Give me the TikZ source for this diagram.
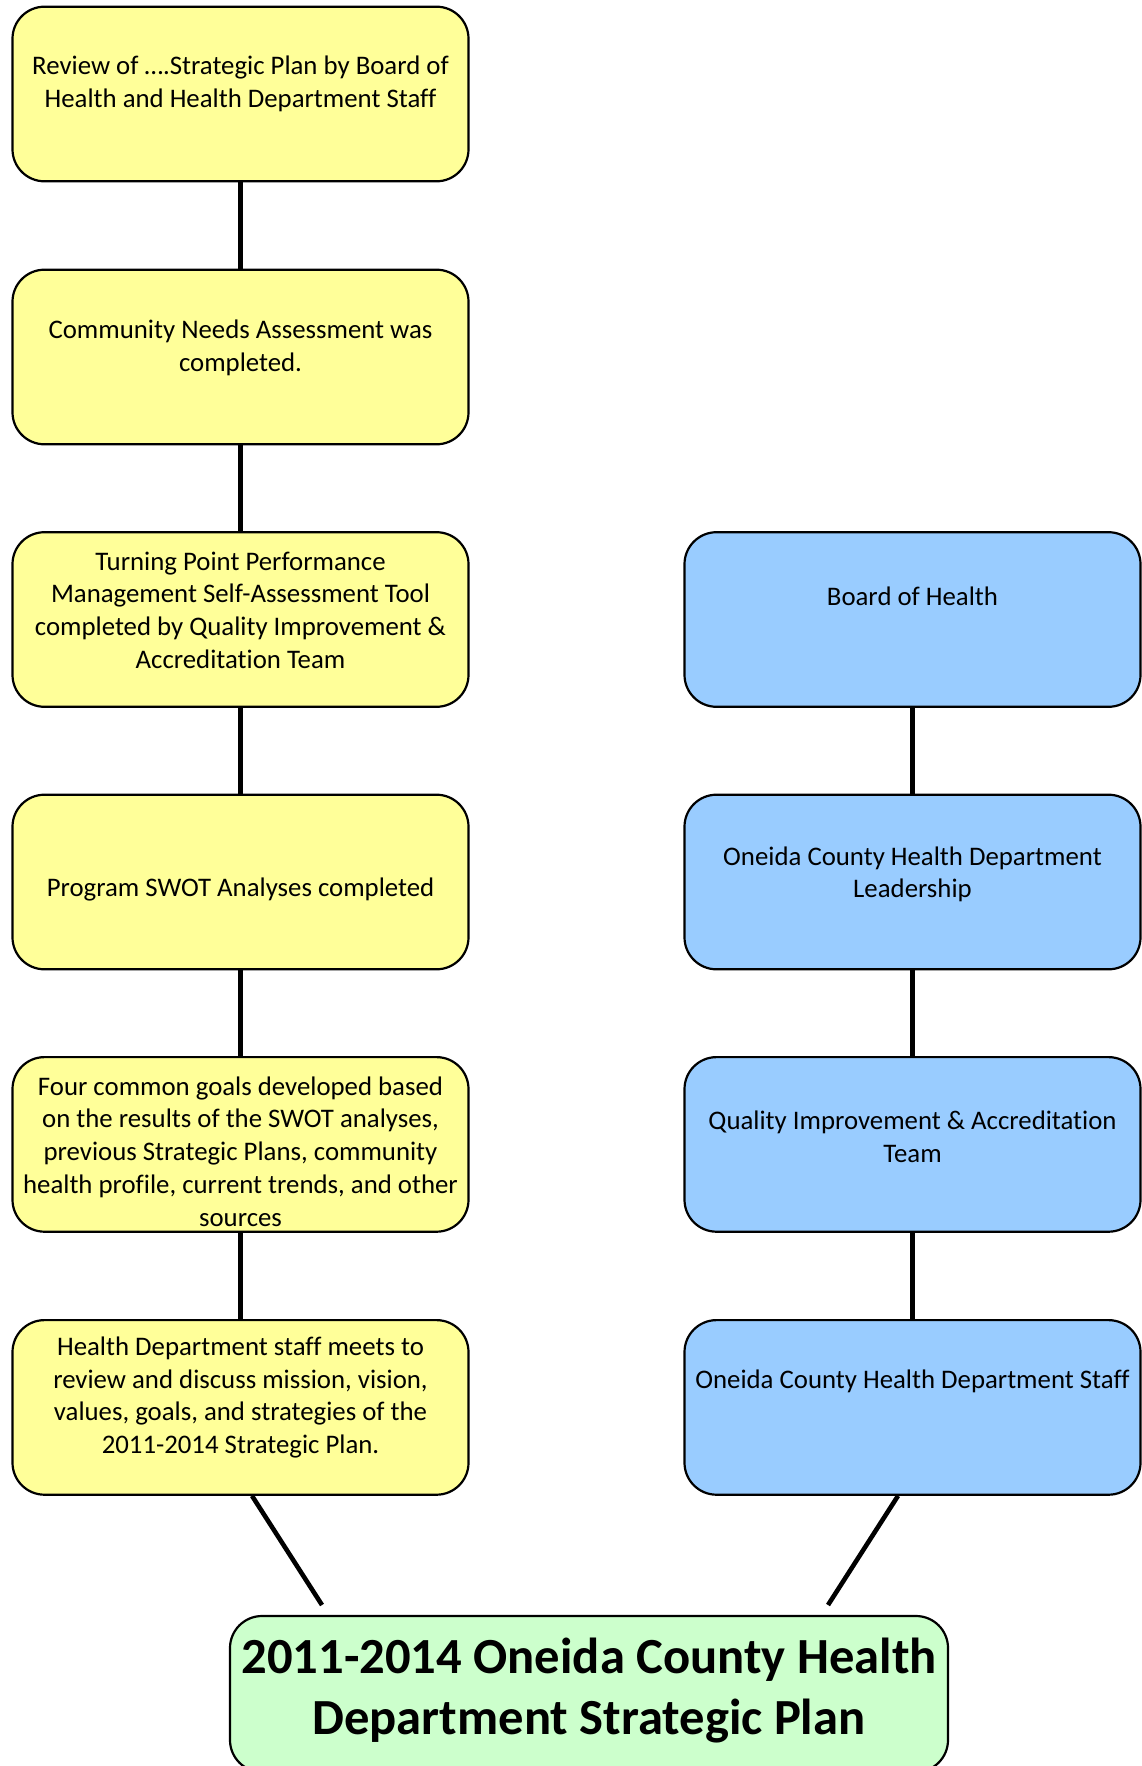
\documentclass[tikz,border=0pt]{standalone}
\usepackage{fontspec}
\setmainfont{Carlito}[Ligatures=NoCommon]
\usetikzlibrary{calc}
\definecolor{yfill}{HTML}{FFFF99}
\definecolor{bfill}{HTML}{99CCFF}
\definecolor{gfill}{HTML}{CCFFCC}
\tikzset{
  box/.style={draw=black, line width=1.1pt, rounded corners=16pt, minimum width=228pt, minimum height=87.3pt, inner sep=0pt},
  ybox/.style={box, fill=yfill},
  bbox/.style={box, fill=bfill},
  gbox/.style={draw=black, line width=1.1pt, rounded corners=16pt, fill=gfill, minimum width=359pt, minimum height=78pt, inner sep=0pt},
  txt/.style={align=center, inner sep=0pt, font=\fontsize{13.4}{16.35}\selectfont},
  conn/.style={line width=2.3pt, black},
}
\begin{document}
\begin{tikzpicture}[x=0.5pt, y=-0.5pt]
\useasboundingbox (0,0) rectangle (1141,1766);
% left column
\node[ybox] (a1) at (240.5,94) {};
\node[ybox] (a2) at (240.5,357) {};
\node[ybox] (a3) at (240.5,619.5) {};
\node[ybox] (a4) at (240.5,882) {};
\node[ybox] (a5) at (240.5,1144.4) {};
\node[ybox] (a6) at (240.5,1407.4) {};
% right column
\node[bbox] (b1) at (912.5,619.5) {};
\node[bbox] (b2) at (912.5,882) {};
\node[bbox] (b3) at (912.5,1144.4) {};
\node[bbox] (b4) at (912.5,1407.4) {};
% final
\node[gbox] (g) at (589,1694) {};
% texts
\node[txt] (ta1) at (240.5,84.1) {Review of ….Strategic Plan by Board of\\Health and Health Department Staff};
\node[txt] (ta2) at (240.5,347.8) {Community Needs Assessment was\\completed.};
\node[txt] (ta3) at (240.5,610.2) {Turning Point Performance\\Management Self-Assessment Tool\\completed by Quality Improvement \&\\Accreditation Team};
\node[txt] (ta4) at (240.5,889) {Program SWOT Analyses completed};
\node[txt] (ta5) at (240.5,1151.4) {Four common goals developed based\\on the results of the SWOT analyses,\\previous Strategic Plans, community\\health profile, current trends, and other\\sources};
\node[txt] (ta6) at (240.5,1397.5) {Health Department staff meets to\\review and discuss mission, vision,\\values, goals, and strategies of the\\2011-2014 Strategic Plan.};
\node[txt] (tb1) at (912.5,596.1) {Board of Health};
\node[txt] (tb2) at (912.5,874.3) {Oneida County Health Department\\Leadership};
\node[txt] (tb3) at (912.5,1136.7) {Quality Improvement \& Accreditation\\Team};
\node[txt] (tb4) at (912.5,1381.2) {Oneida County Health Department Staff};
\node[align=center, inner sep=0pt, font=\fontsize{25.3}{30.5}\bfseries\selectfont] (tg) at (589,1691) {2011-2014 Oneida County Health\\Department Strategic Plan};
% connectors
\draw[conn] (a1.south) -- (a2.north);
\draw[conn] (a2.south) -- (a3.north);
\draw[conn] (a3.south) -- (a4.north);
\draw[conn] (a4.south) -- (a5.north);
\draw[conn] (a5.south) -- (a6.north);
\draw[conn] (b1.south) -- (b2.north);
\draw[conn] (b2.south) -- (b3.north);
\draw[conn] (b3.south) -- (b4.north);
\coordinate (ls) at ($(a6.south)+(11.5,0)$);
\coordinate (le) at (322,1605);
\coordinate (rs) at ($(b4.south)+(-14.5,0)$);
\coordinate (re) at (828,1605);
\draw[conn] (ls) -- (le);
\draw[conn] (rs) -- (re);
\end{tikzpicture}
\end{document}
